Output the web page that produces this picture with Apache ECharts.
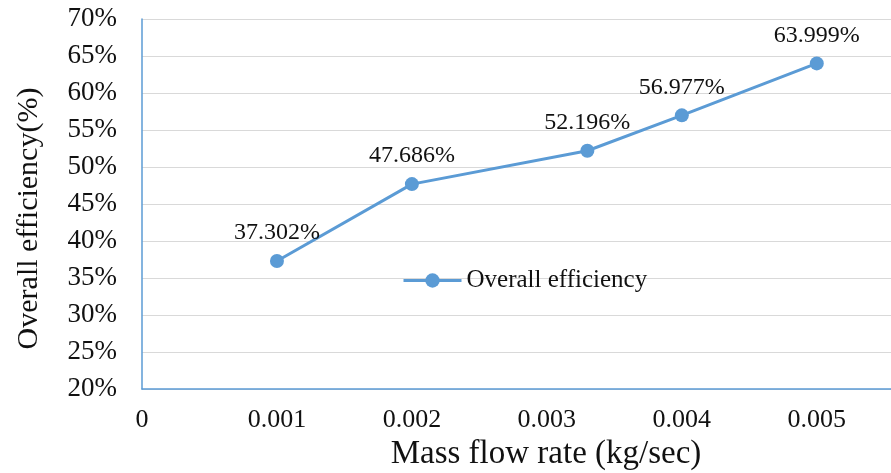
<!DOCTYPE html>
<html>
<head>
<meta charset="utf-8">
<script src="https://cdn.jsdelivr.net/npm/echarts@6/dist/echarts.min.js"></script>
<style>
html,body{margin:0;padding:0;background:#fff;}
#chart{width:891px;height:473px;}
</style>
</head>
<body>
<div id="chart"></div>
<script>
const massFlowRates = [0.001, 0.002, 0.0033, 0.004, 0.005];
const overallEfficiency = [37.302, 47.686, 52.196, 56.977, 63.999];
const seriesName = 'Overall efficiency';
const xAxisTitle = 'Mass flow rate (kg/sec)';
const yAxisTitle = 'Overall efficiency(%)';

const serif = '"Liberation Serif", "Times New Roman", serif';
const blue = '#5B9BD5';
const textColor = '#111';

const chart = echarts.init(document.getElementById('chart'), null, {renderer: 'canvas'});
chart.setOption({
  animation: false,
  backgroundColor: '#fff',
  grid: {left: 142, right: 0, top: 19, bottom: 84, containLabel: false, outerBoundsMode: 'none'},
  legend: {
    data: [seriesName],
    left: 397, top: 263,
    itemWidth: 58, itemHeight: 18,
    itemGap: 10,
    lineStyle: {width: 3, color: blue},
    itemStyle: {color: blue},
    textStyle: {fontFamily: serif, fontSize: 25, color: textColor, padding: [0, 0, 0, 0]}
  },
  xAxis: {
    type: 'value',
    min: 0, max: 0.00555, interval: 0.001,
    name: xAxisTitle,
    nameLocation: 'middle',
    nameGap: 47,
    nameTextStyle: {fontFamily: serif, fontSize: 33, color: textColor, padding: [0, 0, 0, 59]},
    axisLine: {show: true, lineStyle: {color: blue, width: 1.5}},
    axisTick: {show: false},
    splitLine: {show: false},
    axisLabel: {
      fontFamily: serif, fontSize: 26, color: textColor, margin: 18,
      showMaxLabel: false,
      formatter: v => (v === 0 ? '0' : v.toFixed(3))
    }
  },
  yAxis: {
    type: 'value',
    min: 20, max: 70, interval: 5,
    name: yAxisTitle,
    nameLocation: 'middle',
    nameRotate: 90,
    nameGap: 98,
    nameTextStyle: {fontFamily: serif, fontSize: 30, color: textColor, padding: [0, 29, 0, 0]},
    axisLine: {show: true, lineStyle: {color: blue, width: 1.5}},
    axisTick: {show: false},
    splitLine: {show: true, lineStyle: {color: '#D9D9D9', width: 1.2}},
    axisLabel: {
      fontFamily: serif, fontSize: 27, color: textColor, margin: 25,
      formatter: v => v + '%'
    }
  },
  series: [{
    name: seriesName,
    type: 'line',
    data: massFlowRates.map((x, i) => [x, overallEfficiency[i]]),
    symbol: 'circle',
    symbolSize: 14,
    lineStyle: {color: blue, width: 3},
    itemStyle: {color: blue},
    label: {
      show: true, position: 'top', distance: 9,
      fontFamily: serif, fontSize: 24, color: textColor,
      formatter: p => p.value[1].toFixed(3) + '%'
    }
  }]
});
</script>
</body>
</html>
